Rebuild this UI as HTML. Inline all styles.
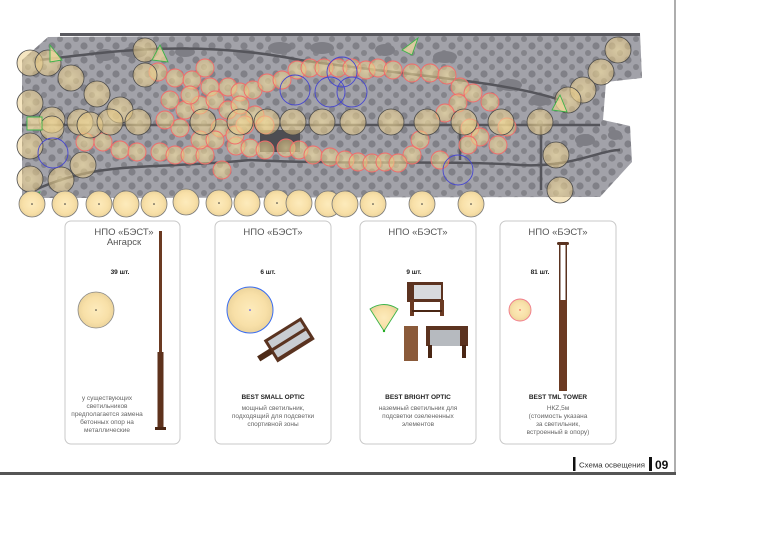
<!DOCTYPE html>
<html><head><meta charset="utf-8"><style>
html,body{margin:0;padding:0;background:#fff;width:768px;height:543px;overflow:hidden}
svg{display:block;font-family:"Liberation Sans",sans-serif}
</style></head><body>
<svg width="768" height="543" viewBox="0 0 768 543" xmlns="http://www.w3.org/2000/svg">
<defs>
<radialGradient id="g" cx="50%" cy="50%" r="50%">
<stop offset="0" stop-color="#fdebbc"/><stop offset="0.7" stop-color="#f8e0a8"/><stop offset="1" stop-color="#ecd49c"/>
</radialGradient>
<radialGradient id="gm" cx="50%" cy="50%" r="50%">
<stop offset="0" stop-color="#f9e2a0" stop-opacity="0.62"/><stop offset="1" stop-color="#e8c880" stop-opacity="0.5"/>
</radialGradient>
<pattern id="tr" width="16" height="14" patternUnits="userSpaceOnUse">
<circle cx="4" cy="4" r="3.6" fill="#6a6a70"/><circle cx="12" cy="11" r="3" fill="#707076"/>
</pattern>
</defs>
<line x1="675" y1="0" x2="675" y2="475" stroke="#777" stroke-width="1.2"/>
<rect x="0" y="472" width="676" height="3" fill="#555"/>
<polygon points="22,60 48,37 640,33 642,78 606,82 603,120 630,126 632,162 600,197 22,198" fill="#a2a2a9"/>
<polygon points="22,60 48,37 640,33 642,78 606,82 603,120 630,126 632,162 600,197 22,198" fill="url(#tr)" opacity="0.6"/>
<g fill="#7e7e85">
<ellipse cx="105" cy="55" rx="10" ry="6"/><ellipse cx="135" cy="52" rx="12" ry="6"/><ellipse cx="185" cy="52" rx="10" ry="5"/>
<ellipse cx="245" cy="55" rx="9" ry="6"/><ellipse cx="280" cy="48" rx="12" ry="6"/><ellipse cx="322" cy="48" rx="12" ry="6"/>
<ellipse cx="385" cy="50" rx="10" ry="6"/><ellipse cx="445" cy="57" rx="12" ry="6"/><ellipse cx="510" cy="85" rx="12" ry="6"/>
<ellipse cx="540" cy="100" rx="10" ry="6"/><ellipse cx="585" cy="140" rx="10" ry="6"/><ellipse cx="615" cy="135" rx="7" ry="5"/>
</g>
<g stroke="#55555b" fill="none" stroke-width="2.5">
<path d="M22,125 L600,125"/><path d="M40,60 C120,50 200,40 300,60 C400,75 500,80 560,100"/>
<path d="M35,190 C100,160 150,170 250,160 C350,165 450,160 520,165 C570,168 600,150 620,150"/>
<path d="M460,125 L460,160"/><path d="M541,125 L541,190"/>
</g>
<rect x="260" y="130" width="40" height="22" fill="#4d4d52"/>
<rect x="60" y="33" width="580" height="3" fill="#5a5a60"/>
<g fill="url(#gm)" stroke="#f36a6a" stroke-width="0.9">
<circle cx="158" cy="72" r="9"/><circle cx="175" cy="78" r="9"/><circle cx="192" cy="80" r="9"/><circle cx="205" cy="68" r="9"/><circle cx="210" cy="87" r="9"/><circle cx="228" cy="87" r="9"/><circle cx="240" cy="92" r="9"/><circle cx="253" cy="90" r="9"/><circle cx="267" cy="83" r="9"/><circle cx="282" cy="80" r="9"/><circle cx="297" cy="70" r="9"/><circle cx="310" cy="68" r="9"/><circle cx="324" cy="68" r="9"/><circle cx="338" cy="68" r="9"/><circle cx="352" cy="68" r="9"/><circle cx="366" cy="70" r="9"/><circle cx="378" cy="68" r="9"/><circle cx="393" cy="70" r="9"/><circle cx="412" cy="73" r="9"/><circle cx="430" cy="73" r="9"/><circle cx="447" cy="75" r="9"/><circle cx="460" cy="87" r="9"/><circle cx="473" cy="93" r="9"/><circle cx="458" cy="103" r="9"/><circle cx="490" cy="102" r="9"/><circle cx="445" cy="113" r="9"/><circle cx="470" cy="128" r="9"/><circle cx="480" cy="137" r="9"/><circle cx="507" cy="127" r="9"/><circle cx="498" cy="145" r="9"/><circle cx="440" cy="160" r="9"/><circle cx="468" cy="145" r="9"/><circle cx="412" cy="155" r="9"/><circle cx="420" cy="140" r="9"/>
<circle cx="85" cy="142" r="9"/><circle cx="103" cy="142" r="9"/><circle cx="120" cy="150" r="9"/><circle cx="137" cy="152" r="9"/><circle cx="160" cy="152" r="9"/><circle cx="175" cy="155" r="9"/><circle cx="190" cy="155" r="9"/><circle cx="205" cy="155" r="9"/><circle cx="222" cy="170" r="9"/><circle cx="236" cy="146" r="9"/><circle cx="250" cy="148" r="9"/><circle cx="265" cy="150" r="9"/><circle cx="286" cy="148" r="9"/><circle cx="299" cy="150" r="9"/><circle cx="313" cy="155" r="9"/><circle cx="330" cy="157" r="9"/><circle cx="345" cy="160" r="9"/><circle cx="358" cy="162" r="9"/><circle cx="372" cy="163" r="9"/><circle cx="385" cy="162" r="9"/><circle cx="398" cy="163" r="9"/>
<circle cx="170" cy="100" r="9"/><circle cx="185" cy="110" r="9"/><circle cx="200" cy="105" r="9"/><circle cx="215" cy="100" r="9"/><circle cx="228" cy="110" r="9"/><circle cx="240" cy="105" r="9"/><circle cx="255" cy="115" r="9"/><circle cx="265" cy="125" r="9"/><circle cx="220" cy="128" r="9"/><circle cx="235" cy="135" r="9"/><circle cx="200" cy="140" r="9"/><circle cx="180" cy="128" r="9"/><circle cx="165" cy="120" r="9"/><circle cx="190" cy="95" r="9"/><circle cx="245" cy="125" r="9"/><circle cx="215" cy="140" r="9"/>
</g>
<g fill="url(#gm)" stroke="#4a4a4a" stroke-width="0.8">
<circle cx="30" cy="63" r="13"/><circle cx="48" cy="63" r="13"/><circle cx="71" cy="78" r="13"/><circle cx="97" cy="94" r="13"/><circle cx="30" cy="103" r="13"/><circle cx="52" cy="120" r="13"/><circle cx="52" cy="128" r="12"/><circle cx="30" cy="146" r="13"/><circle cx="83" cy="165" r="13"/><circle cx="30" cy="179" r="13"/><circle cx="61" cy="180" r="13"/>
<circle cx="145" cy="50" r="12"/><circle cx="145" cy="75" r="12"/><circle cx="120" cy="110" r="13"/>
<circle cx="80" cy="122" r="13"/><circle cx="90" cy="125" r="13"/><circle cx="110" cy="122" r="13"/><circle cx="138" cy="122" r="13"/><circle cx="203" cy="122" r="13"/><circle cx="240" cy="122" r="13"/><circle cx="267" cy="122" r="13"/><circle cx="293" cy="122" r="13"/><circle cx="322" cy="122" r="13"/><circle cx="353" cy="122" r="13"/><circle cx="391" cy="122" r="13"/><circle cx="427" cy="122" r="13"/><circle cx="464" cy="122" r="13"/><circle cx="501" cy="122" r="13"/><circle cx="540" cy="122" r="13"/>
<circle cx="618" cy="50" r="13"/><circle cx="601" cy="72" r="13"/><circle cx="583" cy="90" r="13"/><circle cx="568" cy="100" r="13"/><circle cx="556" cy="155" r="13"/><circle cx="560" cy="190" r="13"/>
</g>
<g fill="none" stroke="#4646d0" stroke-width="0.9">
<circle cx="53" cy="153" r="15"/><circle cx="295" cy="90" r="15"/><circle cx="330" cy="92" r="15"/><circle cx="342" cy="72" r="15"/><circle cx="352" cy="92" r="15"/><circle cx="458" cy="170" r="15"/>
</g>
<g fill="#f4dc9c" fill-opacity="0.7" stroke="#3cb44a" stroke-width="0.9">
<path d="M50,45 L62,60 L50,62 Z"/><path d="M160,45 L168,62 L152,60 Z"/><path d="M418,38 L412,55 L402,50 Z"/><path d="M560,95 L567,112 L552,110 Z"/><path d="M27,117 L42,117 L42,130 L27,130 Z"/><path d="M23,195 L40,192 L33,207 Z"/>
</g>
<g fill="url(#g)" stroke="#777" stroke-width="0.8">
<circle cx="32" cy="204" r="13"/><circle cx="65" cy="204" r="13"/><circle cx="99" cy="204" r="13"/><circle cx="126" cy="204" r="13"/><circle cx="154" cy="204" r="13"/><circle cx="186" cy="202" r="13"/><circle cx="219" cy="203" r="13"/><circle cx="247" cy="203" r="13"/><circle cx="277" cy="203" r="13"/><circle cx="299" cy="203" r="13"/><circle cx="328" cy="204" r="13"/><circle cx="345" cy="204" r="13"/><circle cx="373" cy="204" r="13"/><circle cx="422" cy="204" r="13"/><circle cx="471" cy="204" r="13"/>
</g>
<g fill="#333"><circle cx="32" cy="204" r="0.8"/><circle cx="65" cy="204" r="0.8"/><circle cx="99" cy="204" r="0.8"/><circle cx="154" cy="204" r="0.8"/><circle cx="219" cy="203" r="0.8"/><circle cx="277" cy="203" r="0.8"/><circle cx="373" cy="204" r="0.8"/><circle cx="422" cy="204" r="0.8"/><circle cx="471" cy="204" r="0.8"/></g>
<g fill="#fff" stroke="#c8c8c8" stroke-width="1">
<rect x="65" y="221" width="115" height="223" rx="6"/><rect x="215" y="221" width="116" height="223" rx="6"/><rect x="360" y="221" width="116" height="223" rx="6"/><rect x="500" y="221" width="116" height="223" rx="6"/>
</g>
<g fill="#555" font-size="9.5" text-anchor="middle">
<text x="124" y="235">НПО «БЭСТ»</text><text x="124" y="245">Ангарск</text>
<text x="273" y="235">НПО «БЭСТ»</text><text x="418" y="235">НПО «БЭСТ»</text><text x="558" y="235">НПО «БЭСТ»</text>
</g>
<g fill="#222" font-size="6.5" font-weight="bold" text-anchor="middle">
<text x="120" y="274">39 шт.</text><text x="268" y="274">6 шт.</text><text x="414" y="274">9 шт.</text><text x="540" y="274">81 шт.</text>
<text x="273" y="399">BEST SMALL OPTIC</text><text x="418" y="399">BEST BRIGHT OPTIC</text><text x="558" y="399">BEST TML TOWER</text>
</g>
<g fill="#666" font-size="6.5" text-anchor="middle">
<text x="107" y="400">у существующих</text><text x="107" y="408">светильников</text><text x="107" y="416">предполагается замена</text><text x="107" y="424">бетонных опор на</text><text x="107" y="432">металлические</text>
<text x="273" y="410">мощный светильник,</text><text x="273" y="418">подходящий для подсветки</text><text x="273" y="426">спортивной зоны</text>
<text x="418" y="410">наземный светильник для</text><text x="418" y="418">подсветки озелененных</text><text x="418" y="426">элементов</text>
<text x="558" y="410">НКZ,5м</text><text x="558" y="418">(стоимость указана</text><text x="558" y="426">за светильник,</text><text x="558" y="434">встроенный в опору)</text>
</g>
<circle cx="96" cy="310" r="18" fill="url(#g)" stroke="#888" stroke-width="0.8"/><circle cx="96" cy="310" r="0.8" fill="#333"/>
<rect x="159" y="231" width="3" height="122" fill="#6b3a22"/><rect x="157.5" y="352" width="6" height="76" fill="#5e321c"/><rect x="155" y="427" width="11" height="3" fill="#4a2614"/>
<circle cx="250" cy="310" r="23" fill="url(#g)" stroke="#3a6df0" stroke-width="1"/><circle cx="250" cy="310" r="0.8" fill="#33f"/>
<g transform="translate(287,340) rotate(-32)">
<rect x="-20" y="-12" width="44" height="26" fill="#5a3320"/><rect x="-17" y="-9" width="38" height="8" fill="#c9cdd2"/><rect x="-17" y="2" width="38" height="8" fill="#c9cdd2"/><rect x="-34" y="-2" width="15" height="6" fill="#4e2b18"/>
</g>
<path d="M384,331 L370,309 Q384,300 398,309 Z" fill="url(#g)" stroke="#3cb44a" stroke-width="0.9"/><circle cx="384" cy="331" r="1.2" fill="#2a2"/>
<rect x="407" y="282" width="36" height="20" fill="#5c3320"/><rect x="414" y="285" width="27" height="14" fill="#d8dadd"/><rect x="410" y="300" width="4" height="16" fill="#6b3a22"/><rect x="440" y="300" width="4" height="16" fill="#6b3a22"/><rect x="412" y="310" width="30" height="2" fill="#4a2614"/>
<rect x="404" y="326" width="14" height="35" fill="#8a5a3a"/>
<rect x="426" y="326" width="42" height="20" fill="#5c3320"/><rect x="430" y="330" width="30" height="16" fill="#b6babf"/><rect x="428" y="345" width="4" height="13" fill="#4a2614"/><rect x="462" y="345" width="4" height="13" fill="#4a2614"/>
<circle cx="520" cy="310" r="11" fill="url(#g)" stroke="#f27a8a" stroke-width="0.9"/><circle cx="520" cy="310" r="0.7" fill="#e33"/>
<rect x="557" y="242" width="12" height="3" rx="1.5" fill="#5a3320"/><rect x="559" y="245" width="1.5" height="56" fill="#5a3320"/><rect x="565.5" y="245" width="1.5" height="56" fill="#5a3320"/>
<rect x="559" y="300" width="8" height="91" fill="#6b3a22"/>
<rect x="573" y="457" width="2.5" height="14" fill="#111"/>
<text x="579" y="467.5" font-size="7.6" fill="#333" textLength="66" lengthAdjust="spacingAndGlyphs">Схема освещения</text>
<rect x="649" y="457" width="3" height="14" fill="#111"/>
<text x="655" y="469" font-size="12" font-weight="bold" fill="#111">09</text>
</svg>
</body></html>
